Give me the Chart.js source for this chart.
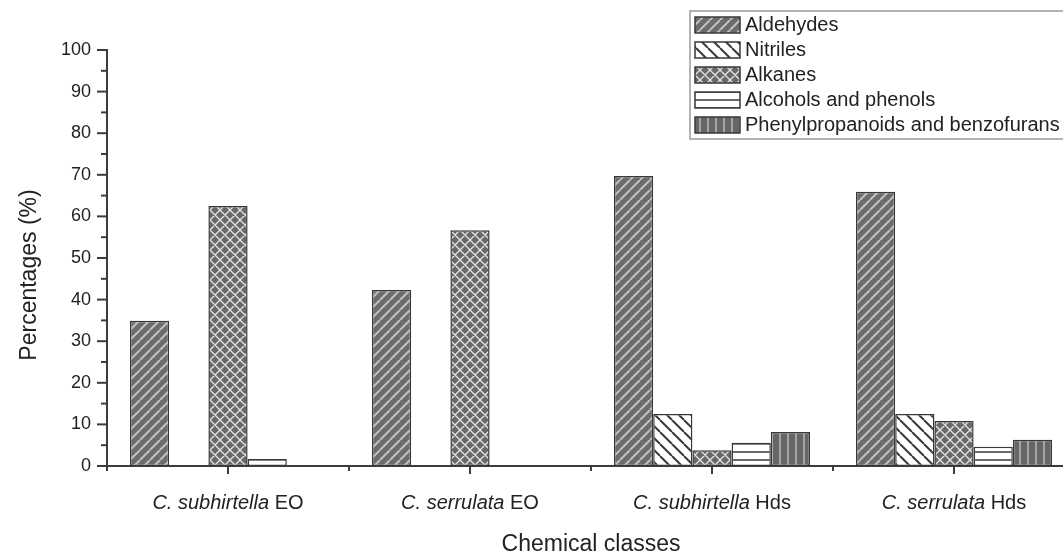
<!DOCTYPE html>
<html>
<head>
<meta charset="utf-8">
<script src="https://cdn.jsdelivr.net/npm/chart.js@4.4.1/dist/chart.umd.min.js"></script>
<style>
  html, body { margin: 0; padding: 0; background: #fff; overflow: hidden; }
  #wrap { width: 1090px; height: 558px; }
</style>
</head>
<body>
<div id="wrap"><canvas id="chart" width="1090" height="558"></canvas></div>
<script>
const species = ['C. subhirtella', 'C. serrulata', 'C. subhirtella', 'C. serrulata'];
const extracts = ['EO', 'EO', 'Hds', 'Hds'];
const classNames = ['Aldehydes', 'Nitriles', 'Alkanes', 'Alcohols and phenols', 'Phenylpropanoids and benzofurans'];

const aldehydes = [34.9, 42.3, 69.7, 65.9];
const nitriles = [0, 0, 12.5, 12.5];
const alkanes = [62.5, 56.7, 3.8, 10.8];
const alcohols = [1.7, 0, 5.6, 4.6];
const phenylpropanoids = [0, 0, 8.2, 6.3];

const yMin = 0;
const yMax = 100;
const yStep = 10;

const font = '"Liberation Sans", Arial, sans-serif';
const ink = '#222222';
const axisColor = '#3c3c3c';

const categories = species.map((s, i) => s + ' ' + extracts[i]);
const series = [aldehydes, nitriles, alkanes, alcohols, phenylpropanoids];

function hatch(bg, fg, size, lineWidth, kinds) {
  const c = document.createElement('canvas');
  c.width = size;
  c.height = size;
  const g = c.getContext('2d');
  g.fillStyle = bg;
  g.fillRect(0, 0, size, size);
  g.strokeStyle = fg;
  g.lineWidth = lineWidth;
  g.beginPath();
  kinds.forEach(k => {
    if (k === '/') {
      for (let o = -size; o <= size; o += size) { g.moveTo(o, size); g.lineTo(o + size, 0); }
    }
    if (k === '\\') {
      for (let o = -size; o <= size; o += size) { g.moveTo(o, 0); g.lineTo(o + size, size); }
    }
    if (k === '-') { g.moveTo(0, size / 2); g.lineTo(size, size / 2); }
    if (k === '|') { g.moveTo(size / 2, 0); g.lineTo(size / 2, size); }
  });
  g.stroke();
  return g.createPattern(c, 'repeat');
}

const fills = [
  hatch('#6c6c6c', '#c0c0c0', 10, 2, ['/']),
  hatch('#ffffff', '#3a3a3a', 12, 2, ['\\']),
  hatch('#686868', '#e4e4e4', 10, 1.3, ['/', '\\']),
  hatch('#ffffff', '#444444', 8, 1.6, ['-']),
  hatch('#666666', '#b4b4b4', 8, 1.6, ['|'])
];

function line(ctx, x1, y1, x2, y2) {
  ctx.beginPath();
  ctx.moveTo(x1, y1);
  ctx.lineTo(x2, y2);
  ctx.stroke();
}

const decor = {
  id: 'decor',
  afterDraw(chart) {
    const { ctx, chartArea, scales: { x, y } } = chart;
    ctx.save();
    ctx.strokeStyle = axisColor;
    ctx.lineWidth = 2;

    for (let v = yMin; v <= yMax; v += yStep / 2) {
      const py = y.getPixelForValue(v);
      const len = v % yStep === 0 ? 10 : 6;
      line(ctx, chartArea.left - len, py, chartArea.left, py);
    }

    const half = (x.getPixelForValue(1) - x.getPixelForValue(0)) / 2;
    categories.forEach((c, i) => {
      const px = x.getPixelForValue(i);
      line(ctx, px, chartArea.bottom, px, chartArea.bottom + 8);
      line(ctx, px - half, chartArea.bottom, px - half, chartArea.bottom + 5);
    });

    // category labels: species in italics, extract type upright
    ctx.fillStyle = ink;
    ctx.textBaseline = 'middle';
    ctx.textAlign = 'left';
    categories.forEach((c, i) => {
      const px = x.getPixelForValue(i);
      ctx.font = 'italic 20px ' + font;
      const w1 = ctx.measureText(species[i]).width;
      ctx.font = '20px ' + font;
      const w2 = ctx.measureText(' ' + extracts[i]).width;
      const start = px - (w1 + w2) / 2;
      ctx.font = 'italic 20px ' + font;
      ctx.fillText(species[i], start, 503);
      ctx.font = '20px ' + font;
      ctx.fillText(' ' + extracts[i], start + w1, 503);
    });

    ctx.save();
    ctx.translate(30, 275);
    ctx.rotate(-Math.PI / 2);
    ctx.textAlign = 'center';
    ctx.font = '23px ' + font;
    ctx.fillText('Percentages (%)', 0, 0);
    ctx.restore();

    // legend box
    ctx.strokeStyle = '#9a9a9a';
    ctx.lineWidth = 1.5;
    ctx.strokeRect(690, 11, 420, 128);
    chart.data.datasets.forEach((ds, i) => {
      const yc = 25 + i * 25;
      ctx.fillStyle = ds.backgroundColor;
      ctx.fillRect(695, yc - 8, 45, 16);
      ctx.strokeStyle = '#383838';
      ctx.lineWidth = 1.5;
      ctx.strokeRect(695, yc - 8, 45, 16);
      ctx.fillStyle = ink;
      ctx.font = '20px ' + font;
      ctx.textAlign = 'left';
      ctx.fillText(ds.label, 745, yc);
    });
    ctx.restore();
  }
};

new Chart(document.getElementById('chart'), {
  type: 'bar',
  data: {
    labels: categories,
    datasets: classNames.map((name, i) => ({
      label: name,
      data: series[i],
      backgroundColor: fills[i],
      borderColor: '#383838',
      borderWidth: 1.5,
      borderSkipped: false,
      categoryPercentage: 0.81,
      barPercentage: 1
    }))
  },
  options: {
    responsive: false,
    animation: false,
    layout: { padding: { top: 50, right: 15, left: 0, bottom: 0 } },
    plugins: { legend: { display: false }, tooltip: { enabled: false } },
    scales: {
      x: {
        grid: { display: false },
        border: { color: axisColor, width: 2 },
        ticks: { display: false },
        title: {
          display: true,
          text: 'Chemical classes',
          color: ink,
          font: { size: 23, family: font },
          padding: { top: 0, bottom: 0 }
        },
        afterFit(scale) { scale.height = 92; }
      },
      y: {
        min: yMin,
        max: yMax,
        ticks: { stepSize: yStep, color: ink, font: { size: 18, family: font }, padding: 6 },
        grid: { display: false, drawTicks: true, tickLength: 10 },
        border: { color: axisColor, width: 2 },
        afterFit(scale) { scale.width = 107; }
      }
    }
  },
  plugins: [decor]
});
</script>
</body>
</html>
